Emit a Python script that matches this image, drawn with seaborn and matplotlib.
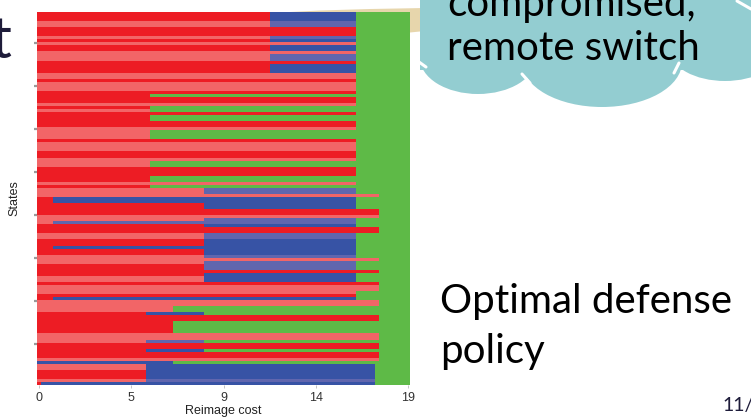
import numpy as np
import pandas as pd
import seaborn as sns
import matplotlib
matplotlib.use("Agg")
import matplotlib.pyplot as plt
from matplotlib.colors import ListedColormap
from matplotlib.patches import Ellipse, Rectangle, Polygon
from matplotlib.lines import Line2D

# ---- policy map data -------------------------------------------------------
# Reimage-cost grid (one heatmap column per grid value)
cost_min, cost_max, n_cost = 0.0, 19.0, 96
x_tick_values = [0, 4.75, 9.5, 14.25, 19]
x_tick_labels = ["0", "5", "9", "14", "19"]

# Action codes: r/p reimage (dark/light row), b/l switch (dark/light row), g wait
action_codes = ["r", "p", "b", "l", "g"]
action_colors = ["#ED1C24", "#F26567", "#3753A5", "#6066AE", "#5EBA47"]

# Consecutive groups of states and the optimal action along the cost axis.
# Each token is "<action><upper cost bound>", the last one runs to the end.
state_counts = [
    3, 2, 3, 1, 1, 1, 2, 1, 2, 1,
    3, 2, 1, 3, 1, 1, 2, 1, 1, 1,
    1, 2, 2, 1, 3, 1, 3, 2, 1, 2,
    3, 2, 1, 1, 2, 1, 2, 2, 2, 1,
    1, 1, 1, 2, 2, 2, 1, 2, 1, 1,
    1, 2, 1, 1, 2, 1, 2, 1, 1, 1,
    2, 2, 1, 2, 4, 2, 1, 2, 1, 2,
    1, 1, 2, 3, 1, 1,
]
state_policies = [
    "r12 b16.4 g", "p12 l16.4 g", "r16.4 g", "p12 l16.4 g", "r12 b16.4 g",
    "p16.4 g", "r12 b16.4 g", "p16.4 g", "p12 l16.4 g", "r16.4 g",
    "r12 b16.4 g", "p16.4 g", "r16.4 g", "p16.4 g", "r16.4 g",
    "r5.8 g", "r16.4 g", "p16.4 g", "r5.8 g", "p5.8 g",
    "r16.4 g", "r5.8 g", "r16.4 g", "p16.4 g", "p5.8 g",
    "r16.4 g", "p16.4 g", "r16.4 g", "p16.4 g", "p5.8 g",
    "r16.4 g", "r5.8 g", "p16.4 g", "r5.8 g", "p8.45 l16.4 g",
    "p17.55 g", "r0.8 b16.4 g", "r8.45 b16.4 g", "r17.55 g", "p17.55 g",
    "p8.45 l16.4 g", "p0.8 l16.4 g", "r8.45 b16.4 g", "r17.55 g", "p8.45 l16.4 g",
    "r8.45 b16.4 g", "r0.8 b16.4 g", "r8.45 b16.4 g", "p8.45 l16.4 g", "p17.55 g",
    "p8.45 l16.4 g", "r8.45 l16.4 g", "r17.55 g", "r8.45 b16.4 g", "p8.45 b16.4 g",
    "r17.55 g", "p17.55 g", "p16.4 g", "r16.4 g", "r0.8 b16.4 g",
    "p17.55 g", "p7 g", "r5.5 b8.45 g", "r17.55 g", "r7 g",
    "p17.55 g", "p5.5 l8.45 g", "r17.55 g", "r5.5 b8.45 g", "r17.55 g",
    "p17.55 g", "b7 g", "p5.5 b17.3 g", "r5.5 b17.3 g", "p5.5 l17.3 g",
    "r0.2 b17.3 g",
]

reimage_cost = np.linspace(cost_min, cost_max, n_cost)


def policy_row(spec):
    row = np.zeros(n_cost, dtype=int)
    lo = -np.inf
    for tok in spec.split():
        hi = float(tok[1:]) if len(tok) > 1 else np.inf
        row[(reimage_cost >= lo) & (reimage_cost < hi)] = action_codes.index(tok[0])
        lo = hi
    return row


policy = np.vstack([np.tile(policy_row(s), (n, 1))
                    for n, s in zip(state_counts, state_policies)])
policy_df = pd.DataFrame(policy, columns=np.round(reimage_cost, 2))

# ---- figure ----------------------------------------------------------------
W, H = 751, 418
fig = plt.figure(figsize=(W / 100, H / 100), dpi=100)
fig.patch.set_facecolor("white")


def fx(x):
    return x / W


def fy(y):
    return 1 - y / H


# beige shape peeking out behind the plot
beige_outline = [(280, 12.5), (320, 10.5), (370, 9), (425, 8),
                 (425, 31), (405, 33), (280, 33)]
fig.patches.append(Polygon([(fx(x), fy(y)) for x, y in beige_outline],
                           closed=True, transform=fig.transFigure,
                           facecolor="#E7D6AC", edgecolor="none", zorder=-1))

ax = fig.add_axes([fx(37), fy(385), 373 / W, 373 / H])
ax.set_zorder(1)
sns.heatmap(policy_df, ax=ax, cmap=ListedColormap(action_colors),
            vmin=-0.5, vmax=4.5, cbar=False,
            xticklabels=False, yticklabels=False, linewidths=0)

ax.set_xticks([v / cost_max * (n_cost - 1) + 0.5 for v in x_tick_values])
ax.set_xticklabels(x_tick_labels)
ax.set_yticks(np.linspace(10.2, 109.6, 8))
ax.set_yticklabels([])
ax.tick_params(axis="x", length=2, width=0.6, color="#bbbbbb", pad=3,
               labelsize=9, labelcolor="#333333")
ax.tick_params(axis="y", length=2.5, width=1.6, color="#9a9a9a")
for lab in ax.get_xticklabels():
    lab.set_fontfamily("Liberation Sans")
ax.set_xlabel("Reimage cost", fontsize=9, color="#222222",
              family="Liberation Sans", labelpad=1)
ax.set_ylabel("States", fontsize=9, color="#222222",
              family="Liberation Sans", labelpad=6)

# thought cloud
cloud = "#93CDD1"
fig.patches.append(Rectangle((fx(420), fy(70)), (W - 420) / W, 70 / H,
                             transform=fig.transFigure, facecolor=cloud,
                             edgecolor="none", zorder=2))
for cx, cy, w, h in [(478, 58, 116, 72), (602, 62, 160, 90), (725, 50, 110, 62)]:
    fig.patches.append(Ellipse((fx(cx), fy(cy)), w / W, h / H,
                               transform=fig.transFigure, facecolor=cloud,
                               edgecolor="none", zorder=2))
for (x0, y0), (x1, y1) in [((419, 62), (426, 67)), ((522, 74), (530, 83)),
                           ((674, 73), (679, 63)), ((737, 1), (751, 9))]:
    fig.lines.append(Line2D([fx(x0), fx(x1)], [fy(y0), fy(y1)],
                            transform=fig.transFigure, color="white",
                            lw=2.2, solid_capstyle="round", zorder=3))

slide_font = ["Lato", "DejaVu Sans"]
fig.text(fx(447), fy(16), "compromised,", fontsize=29, family=slide_font,
         color="black", va="baseline", ha="left", zorder=4)
fig.text(fx(447), fy(60), "remote switch", fontsize=29, family=slide_font,
         color="black", va="baseline", ha="left", zorder=4)
fig.text(fx(440), fy(313), "Optimal defense", fontsize=29, family=slide_font,
         color="black", va="baseline", ha="left")
fig.text(fx(440), fy(363), "policy", fontsize=29, family=slide_font,
         color="black", va="baseline", ha="left")
fig.text(fx(12), fy(58), "t", fontsize=42, family=slide_font,
         color="#1E1C3A", va="baseline", ha="right")
fig.text(fx(722), fy(411), "11/", fontsize=14, family=slide_font,
         color="#1E1C3A", va="baseline", ha="left")

fig.savefig("out.png", dpi=100)
